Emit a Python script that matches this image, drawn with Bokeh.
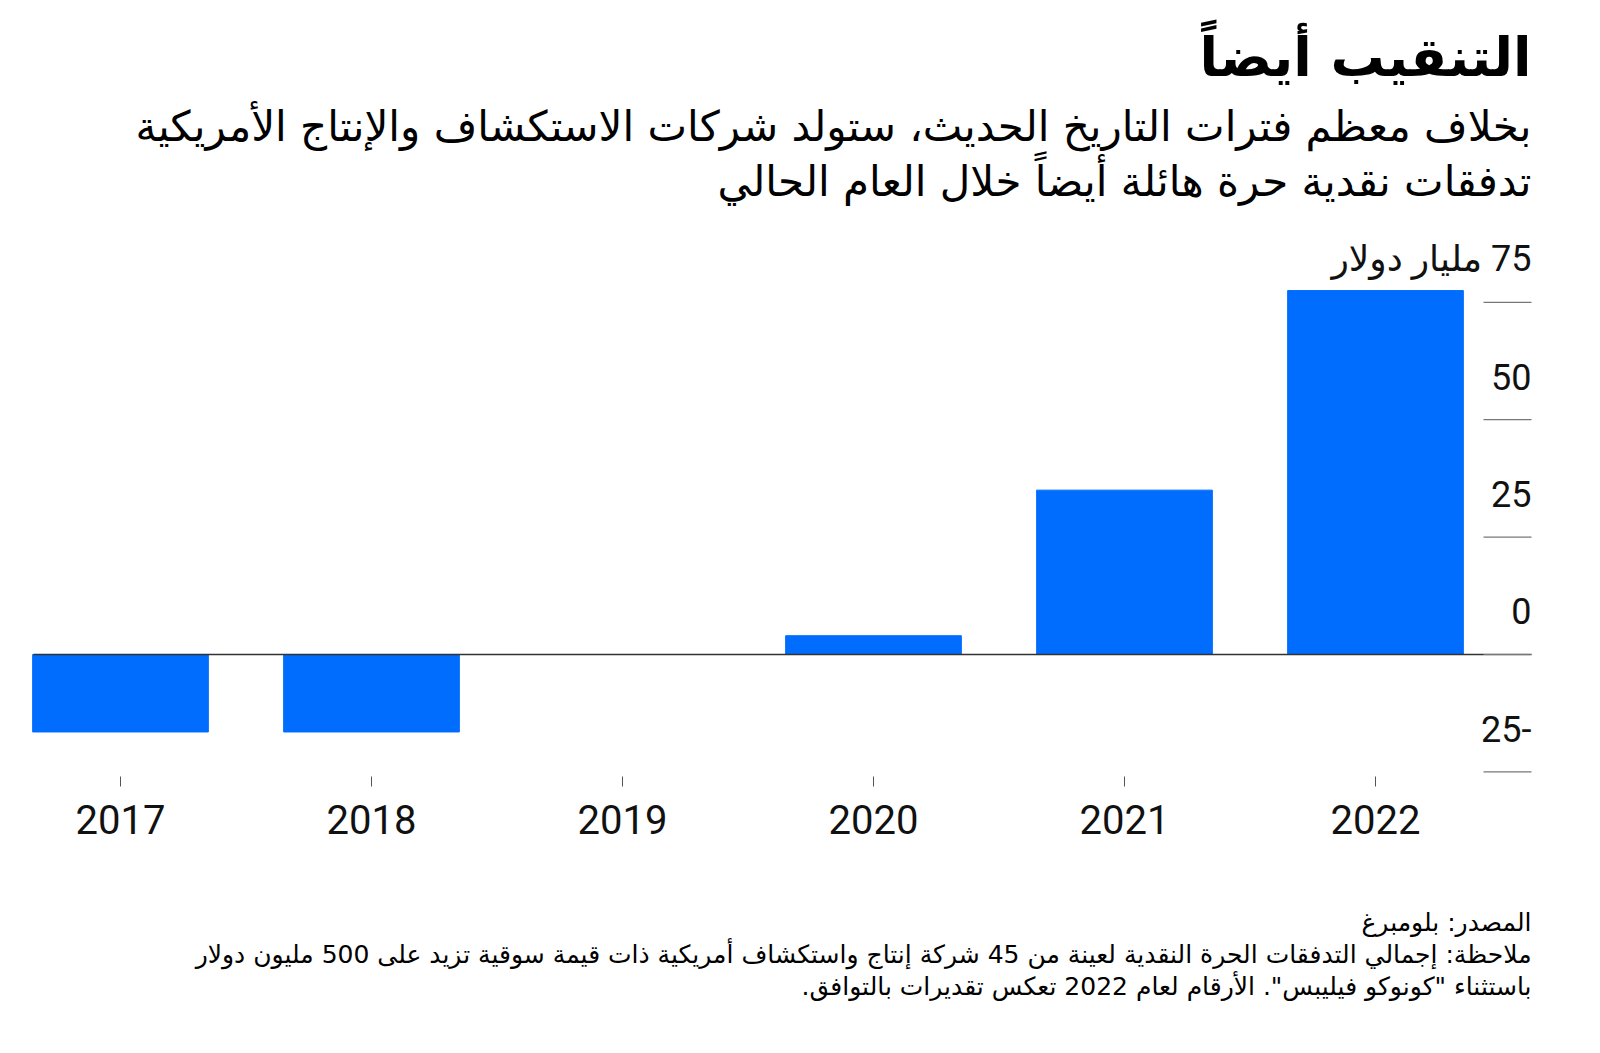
from bokeh.plotting import figure
from bokeh.models import Range1d, ColumnDataSource
from bokeh.core.properties import value
from bokeh.embed import file_html
from bokeh.resources import INLINE

# ---- data ----
years = ["2017", "2018", "2019", "2020", "2021", "2022"]
free_cash_flow = [-16.5, -16.5, 0, 4, 35, 77.5]
y_ticks = [-25, 0, 25, 50, 75]
y_tick_labels = ["25-", "0", "25", "50", "مليار دولار\u200e 75"]

title = "التنقيب أيضاً"
subtitle = [
    "بخلاف معظم فترات التاريخ الحديث، ستولد شركات الاستكشاف والإنتاج الأمريكية",
    "تدفقات نقدية حرة هائلة أيضاً خلال العام الحالي",
]
notes = [
    "المصدر: بلومبرغ",
    "ملاحظة: إجمالي التدفقات الحرة النقدية لعينة من 45 شركة إنتاج واستكشاف أمريكية ذات قيمة سوقية تزيد على 500 مليون دولار",
    "باستثناء \"كونوكو فيليبس\". الأرقام لعام 2022 تعكس تقديرات بالتوافق.\u200f",
]

# ---- layout (pixels) ----
W, H = 1584, 1030
OX, OY = 0, 0
CAT0_PX, CAT_STEP_PX = 120 - OX, 251   # first category centre, spacing
ZERO_PX, UNIT_PX = 654 - OY, 4.696     # zero line, px per unit
PLOT_L_PX, PLOT_R_PX = 33 - OX, 1531 - OX
GRID_LEN_PX = 48
BASE_SHIFT = 0.39  # empirical baseline correction (fraction of font size)


def X(px):
    return (px - CAT0_PX) / CAT_STEP_PX


def Y(py):
    return (ZERO_PX - py) / UNIT_PX


def YB(baseline_page_px, fs):
    return Y(baseline_page_px - OY - BASE_SHIFT * fs)


ARABIC = "'DejaVu Sans'"
NUM = "Roboto, 'DejaVu Sans'"
BLUE = "#006dff"

p = figure(width=W, height=H, output_backend="svg", toolbar_location=None,
           x_range=Range1d(X(0), X(W)), y_range=Range1d(Y(H), Y(0)),
           x_axis_location=None, y_axis_location=None, min_border=0)
p.outline_line_color = None
p.background_fill_color = "white"
p.border_fill_color = "white"
p.xgrid.visible = False
p.ygrid.visible = False

idx = list(range(len(years)))
src = ColumnDataSource(dict(x=idx, top=free_cash_flow, label=years))

# bars
p.vbar(x="x", top="top", bottom=0, width=0.7, color=BLUE, source=src)

# zero line across the plot
p.segment(x0=[X(PLOT_L_PX)], x1=[X(PLOT_R_PX)], y0=[0], y1=[0],
          line_color="#333333", line_width=1.5)

# short gridlines at the right + their labels
n = len(y_ticks)
gsrc = ColumnDataSource(dict(y=y_ticks, t=y_tick_labels,
                             x0=[X(PLOT_R_PX - GRID_LEN_PX)] * n,
                             x1=[X(PLOT_R_PX)] * n))
p.segment(x0="x0", x1="x1", y0="y", y1="y", source=gsrc,
          line_color="#777777", line_width=1.2)
p.text(x="x1", y="y", text="t", source=gsrc, text_align="right",
       text_baseline="alphabetic", y_offset=-(29 + BASE_SHIFT * 36),
       text_font=value(NUM), text_font_size="36px", text_color="#111111")

# category ticks and labels
tick_top, tick_bot = Y(776 - OY), Y(786 - OY)
p.segment(x0="x", x1="x", y0=tick_top, y1=tick_bot, source=src,
          line_color="#555555", line_width=1)
p.text(x="x", y=YB(835, 40), text="label", source=src, text_align="center",
       text_baseline="alphabetic", text_font=value(NUM),
       text_font_size="40px", text_color="#111111")

# title block
RIGHT = X(PLOT_R_PX)
p.text(x=[RIGHT], y=[YB(78, 54)], text=[title], text_align="right",
       text_baseline="alphabetic", text_font=value(ARABIC),
       text_font_style="bold", text_font_size="54px", text_color="#000000")
p.text(x=[RIGHT] * len(subtitle), y=[YB(142, 42), YB(197, 42)], text=subtitle,
       text_align="right", text_baseline="alphabetic", text_font=value(ARABIC),
       text_font_size="42px", text_color="#000000")

# notes
p.text(x=[RIGHT] * len(notes), y=[YB(932, 25), YB(964, 25), YB(996, 25)],
       text=notes, text_align="right", text_baseline="alphabetic",
       text_font=value(ARABIC), text_font_size="25px", text_color="#000000")

open("out.html", "w").write(file_html(p, INLINE))
